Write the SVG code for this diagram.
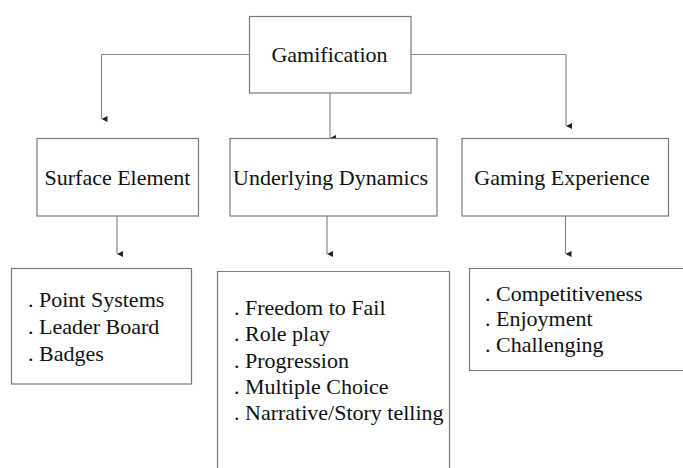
<svg xmlns="http://www.w3.org/2000/svg" width="683" height="468" viewBox="0 0 683 468">
<defs>
<marker id="ah" viewBox="0 0 6 6" refX="3" refY="6" markerWidth="6" markerHeight="6" markerUnits="userSpaceOnUse" orient="auto-start-reverse">
<path d="M0,0 L6,0 L3,6 Z" fill="#222"/>
</marker>
</defs>
<rect width="683" height="468" fill="#fff"/>
<g id="connectors" fill="none" stroke="#8a8a8a" stroke-width="1.2">
<path d="M250,54.5 H101.5 V119" marker-end="url(#ah)"/>
<path d="M411,54.5 H566 V126" marker-end="url(#ah)"/>
<path d="M330,93 V138" marker-end="url(#ah)"/>
<path d="M117,216 V254" marker-end="url(#ah)"/>
<path d="M327,216 V254" marker-end="url(#ah)"/>
<path d="M565.5,216 V254" marker-end="url(#ah)"/>
</g>
<g id="gamification" style="font-family:'Liberation Serif','Times New Roman',serif;font-size:22px" fill="#111" text-anchor="middle">
<rect x="249.5" y="16.5" width="161.5" height="76.5" fill="#fff" stroke="#7a7a7a" stroke-width="1.2"/>
<text x="329.5" y="62">Gamification</text>
</g>
<g id="surface-element" style="font-family:'Liberation Serif','Times New Roman',serif;font-size:22px" fill="#111" text-anchor="middle">
<rect x="37" y="138.5" width="161.5" height="77.5" fill="#fff" stroke="#7a7a7a" stroke-width="1.2"/>
<text x="117.5" y="185">Surface Element</text>
</g>
<g id="underlying-dynamics" style="font-family:'Liberation Serif','Times New Roman',serif;font-size:22px" fill="#111" text-anchor="middle">
<rect x="230" y="138.5" width="207" height="77.5" fill="#fff" stroke="#7a7a7a" stroke-width="1.2"/>
<text x="330.5" y="185">Underlying Dynamics</text>
</g>
<g id="gaming-experience" style="font-family:'Liberation Serif','Times New Roman',serif;font-size:22px" fill="#111" text-anchor="middle">
<rect x="462" y="138.5" width="206.5" height="77.5" fill="#fff" stroke="#7a7a7a" stroke-width="1.2"/>
<text x="562" y="185">Gaming Experience</text>
</g>
<g id="surface-list" style="font-family:'Liberation Serif','Times New Roman',serif;font-size:22px" fill="#111">
<rect x="11.5" y="268.5" width="180" height="115.5" fill="#fff" stroke="#7a7a7a" stroke-width="1.2"/>
<text x="28" y="306.5">. Point Systems</text>
<text x="28" y="333.5">. Leader Board</text>
<text x="28" y="360.5">. Badges</text>
</g>
<g id="dynamics-list" style="font-family:'Liberation Serif','Times New Roman',serif;font-size:22px" fill="#111">
<path d="M217.5,470 V271.5 H449.5 V470" fill="#fff" stroke="#7a7a7a" stroke-width="1.2"/>
<text x="234" y="315">. Freedom to Fail</text>
<text x="234" y="341">. Role play</text>
<text x="234" y="367.5">. Progression</text>
<text x="234" y="394">. Multiple Choice</text>
<text x="234" y="420">. Narrative/Story telling</text>
</g>
<g id="experience-list" style="font-family:'Liberation Serif','Times New Roman',serif;font-size:22px" fill="#111">
<path d="M690,268.5 H469.5 V370.5 H690" fill="#fff" stroke="#7a7a7a" stroke-width="1.2"/>
<text x="485" y="300.5">. Competitiveness</text>
<text x="485" y="326">. Enjoyment</text>
<text x="485" y="351.5">. Challenging</text>
</g>
</svg>
